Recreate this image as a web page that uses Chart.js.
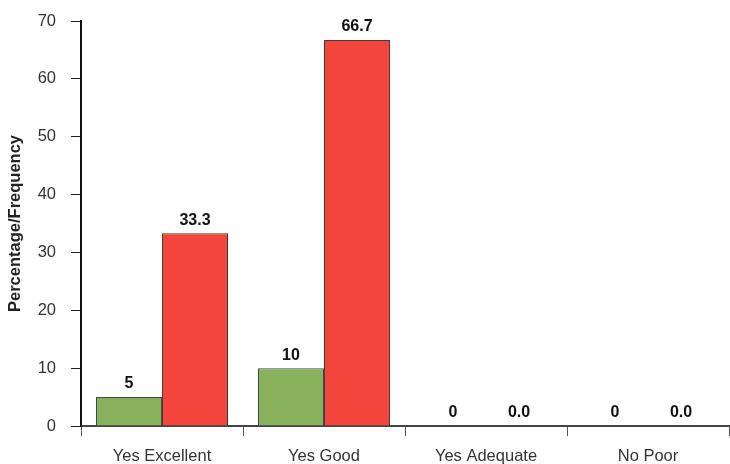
<!DOCTYPE html>
<html>
<head>
<meta charset="utf-8">
<script src="https://cdn.jsdelivr.net/npm/chart.js@4/dist/chart.umd.min.js"></script>
<style>
  html, body { margin: 0; padding: 0; background: #fff; }
  #wrap { width: 730px; height: 464px; }
</style>
</head>
<body>
<div id="wrap"><canvas id="chart" width="730" height="464"></canvas></div>
<script>
const categories = ["Yes Excellent", "Yes Good", "Yes Adequate", "No Poor"];
const frequency = [5, 10, 0, 0];
const percentage = [33.3, 66.7, 0.0, 0.0];
const yTicks = [0, 10, 20, 30, 40, 50, 60, 70];

// value labels above each bar
const barLabels = {
  id: "barLabels",
  afterDatasetsDraw(chart) {
    const ctx = chart.ctx;
    ctx.save();
    ctx.font = "bold 16px 'Liberation Sans', Arial, sans-serif";
    ctx.fillStyle = "#111";
    ctx.textAlign = "center";
    ctx.textBaseline = "bottom";
    chart.data.datasets.forEach((ds, i) => {
      chart.getDatasetMeta(i).data.forEach((bar, j) => {
        const v = ds.data[j];
        const txt = i === 0 ? String(v) : v.toFixed(1);
        ctx.fillText(txt, bar.x, bar.y - 5);
      });
    });
    ctx.restore();
  }
};

new Chart(document.getElementById("chart"), {
  type: "bar",
  data: {
    labels: categories,
    datasets: [
      {
        label: "Frequency",
        data: frequency,
        backgroundColor: "#88b25d",
        borderColor: "#3d4a48",
        borderWidth: 1,
        categoryPercentage: 0.815,
        barPercentage: 1
      },
      {
        label: "Percentage",
        data: percentage,
        backgroundColor: "#f3453c",
        borderColor: "#4a3a3a",
        borderWidth: 1,
        categoryPercentage: 0.815,
        barPercentage: 1
      }
    ]
  },
  options: {
    responsive: false,
    animation: false,
    layout: { padding: { top: 21, right: 1, left: 0, bottom: 0 } },
    plugins: {
      legend: { display: false },
      tooltip: { enabled: false }
    },
    scales: {
      x: {
        grid: {
          offset: true,
          drawOnChartArea: false,
          tickLength: 10,
          color: "#555",
          lineWidth: 1
        },
        border: { color: "#444", width: 2 },
        ticks: {
          color: "#333",
          padding: 11,
          font: { family: "'Liberation Sans', Arial, sans-serif", size: 16.5 }
        },
        afterFit(s) { s.height = 38; }
      },
      y: {
        min: 0,
        max: 70,
        afterBuildTicks(s) { s.ticks = yTicks.map(v => ({ value: v })); },
        grid: {
          drawOnChartArea: false,
          tickLength: 10,
          color: "#222",
          lineWidth: 1
        },
        border: { color: "#111", width: 2 },
        ticks: {
          color: "#333",
          padding: 15,
          font: { family: "'Liberation Sans', Arial, sans-serif", size: 16.5 }
        },
        title: {
          display: true,
          text: "Percentage/Frequency",
          color: "#222",
          padding: { top: 6, bottom: 0 },
          font: { family: "'Liberation Sans', Arial, sans-serif", size: 16.5, weight: "bold" }
        },
        afterFit(s) {
          s.width = 81;
          s.paddingTop = 0;
          s.paddingBottom = 0;
        }
      }
    }
  },
  plugins: [barLabels]
});
</script>
</body>
</html>
